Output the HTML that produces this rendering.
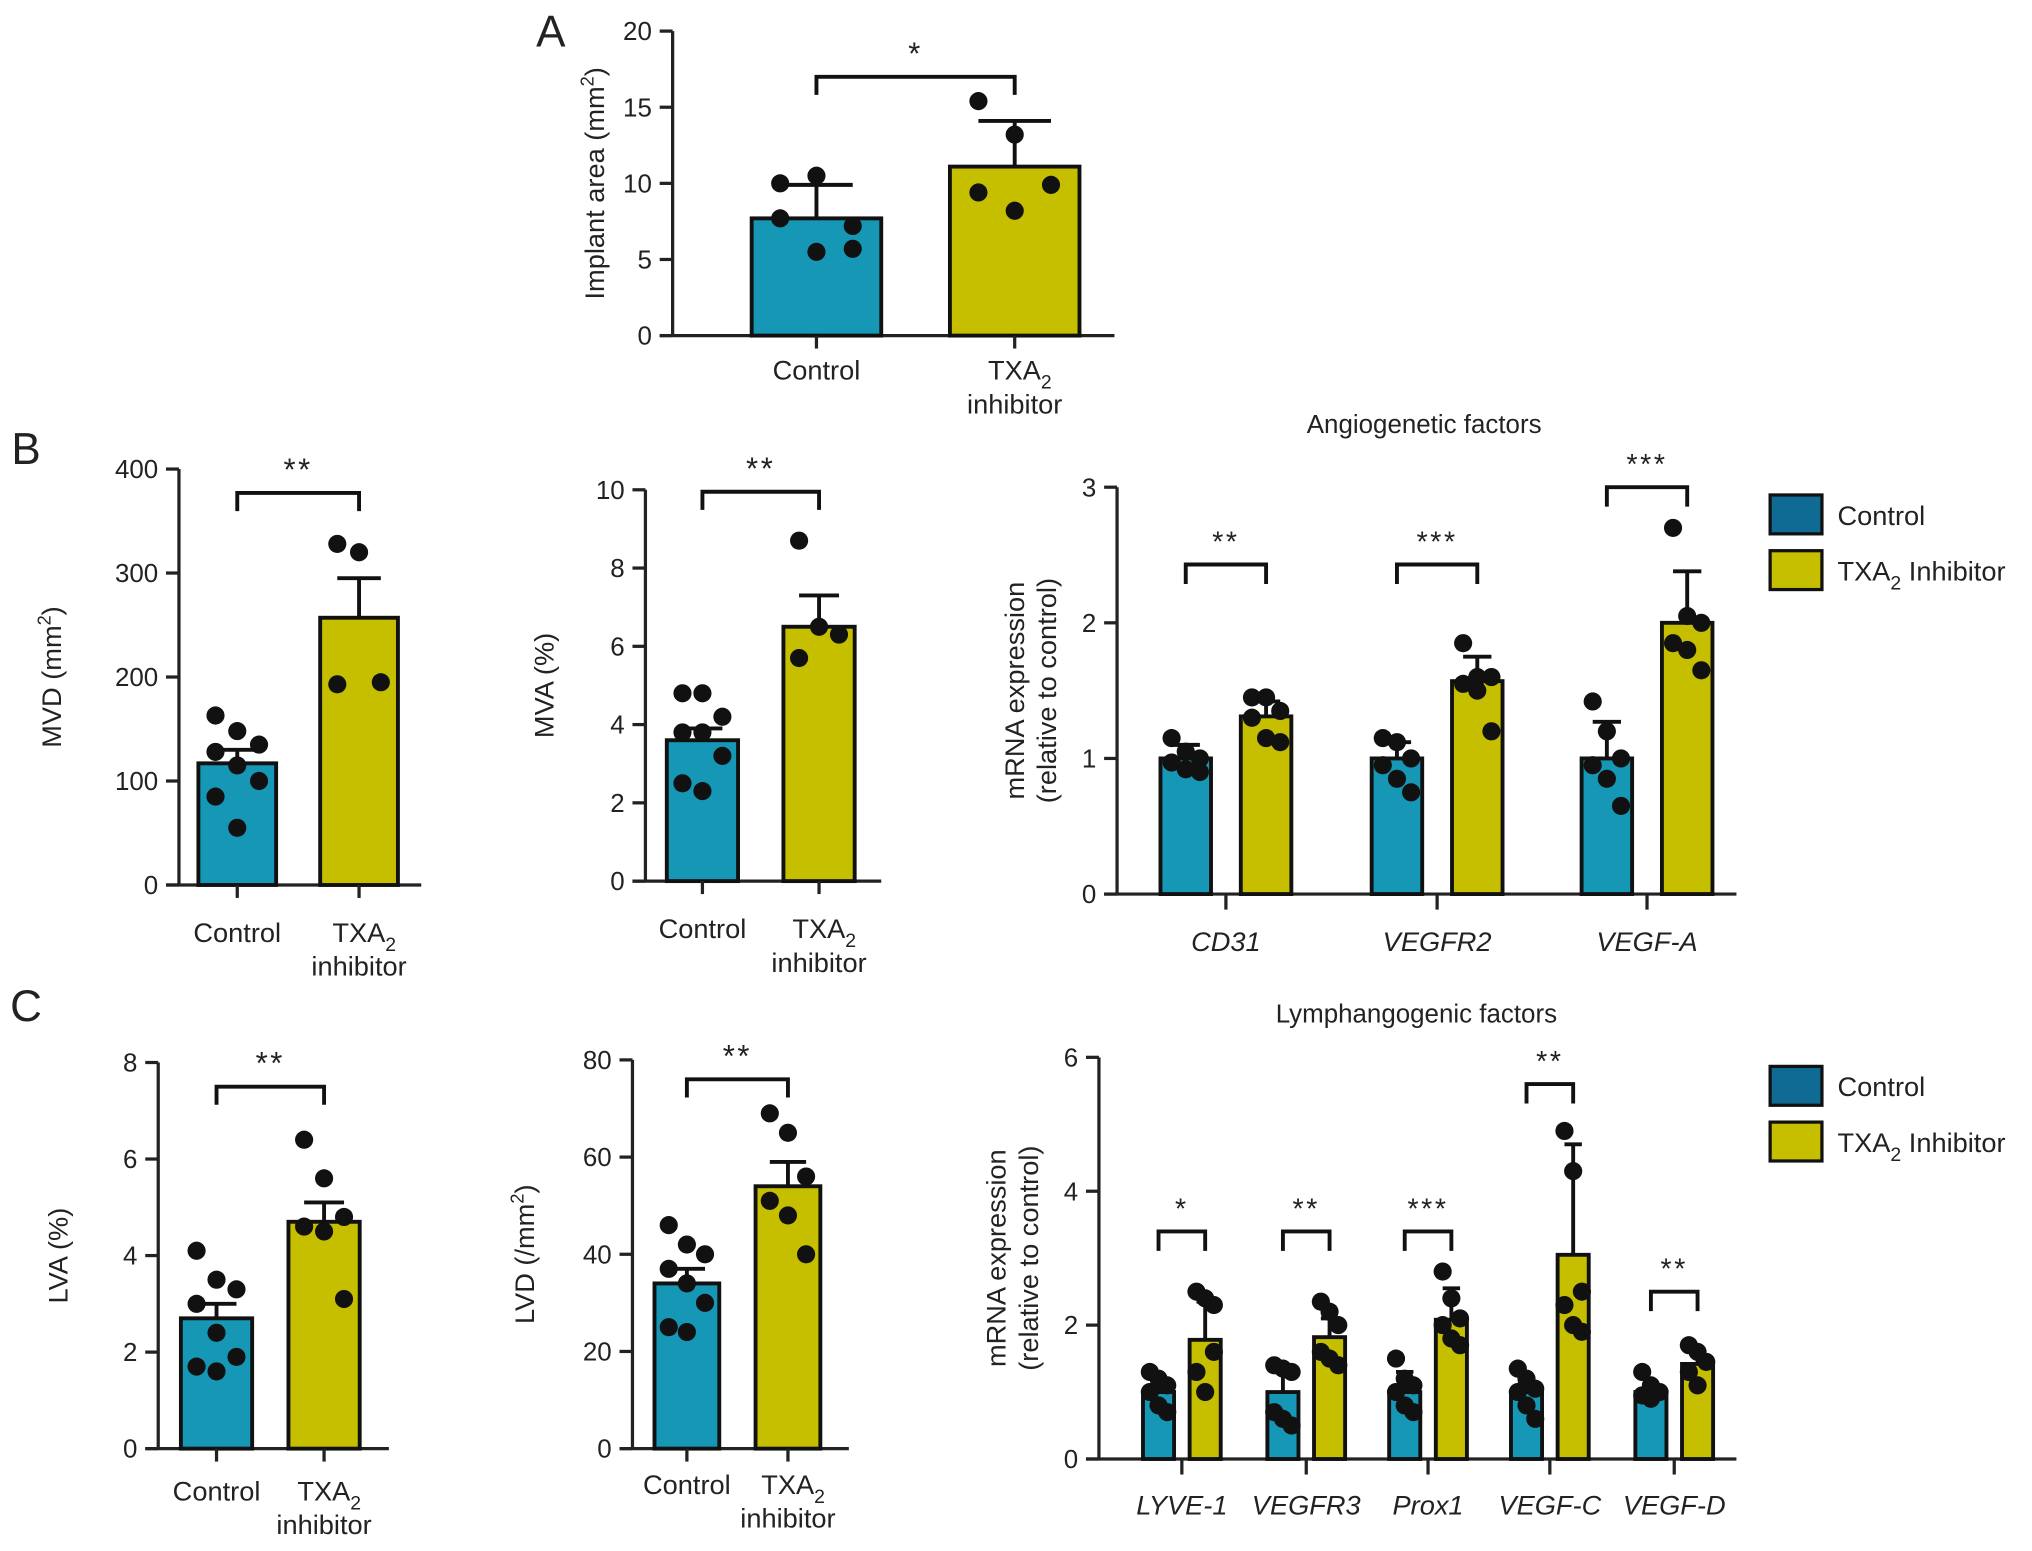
<!DOCTYPE html>
<html><head><meta charset="utf-8"><style>
html,body{margin:0;padding:0;background:#fff}
svg{display:block}
text{font-family:"Liberation Sans",Arial,sans-serif;fill:#222}
</style></head><body>
<svg id="fig" xmlns="http://www.w3.org/2000/svg" width="2032" height="1551" viewBox="0 0 1568 1197"></svg>
<script>
// ---------- data ----------
const twoCats = ['Control','TXA2 inhibitor'];
const aMeans = [7.7, 11.1];
const aErr = [9.9, 14.1];
const aDots = [[10.0,10.5,7.2,7.7,5.5,5.7],[15.4,13.2,9.9,9.4,8.2]];
const aTicks = [0,5,10,15,20];

const mvdMeans = [117, 257];
const mvdErr = [130, 295];
const mvdDots = [[163,148,135,128,115,100,85,55],[328,320,195,193]];
const mvdTicks = [0,100,200,300,400];

const mvaMeans = [3.6, 6.5];
const mvaErr = [3.9, 7.3];
const mvaDots = [[4.8,4.8,4.2,3.8,3.8,3.2,2.5,2.3],[8.7,6.5,6.3,5.7]];
const mvaTicks = [0,2,4,6,8,10];

const lvaMeans = [2.7, 4.7];
const lvaErr = [3.0, 5.1];
const lvaDots = [[4.1,3.5,3.3,3.0,2.4,1.9,1.7,1.6],[6.4,5.6,4.8,4.6,4.5,3.1]];
const lvaTicks = [0,2,4,6,8];

const lvdMeans = [34, 54];
const lvdErr = [37, 59];
const lvdDots = [[46,42,40,37,34,30,25,24],[69,65,56,51,48,40]];
const lvdTicks = [0,20,40,60,80];

const angCats = ['CD31','VEGFR2','VEGF-A'];
const angCtrl = [1.0, 1.0, 1.0];
const angCtrlErr = [1.1, 1.12, 1.27];
const angTxa = [1.31, 1.57, 2.0];
const angTxaErr = [1.42, 1.75, 2.38];
const angCtrlDots = [[1.15,1.05,1.0,0.97,0.92,0.9],[1.15,1.12,1.0,0.95,0.85,0.75],[1.42,1.2,1.0,0.95,0.85,0.65]];
const angTxaDots = [[1.45,1.45,1.35,1.3,1.15,1.12],[1.85,1.6,1.6,1.55,1.5,1.2],[2.7,2.05,2.0,1.85,1.8,1.65]];
const angSig = ['**','***','***'];
const angBracket = [2.43, 2.43, 3.0];
const angTicks = [0,1,2,3];

const lymCats = ['LYVE-1','VEGFR3','Prox1','VEGF-C','VEGF-D'];
const lymCtrl = [1.0,1.0,1.0,1.0,1.0];
const lymCtrlErr = [1.2,1.3,1.3,1.15,1.1];
const lymTxa = [1.78,1.82,2.08,3.05,1.42];
const lymTxaErr = [2.35,2.1,2.55,4.7,1.6];
const lymCtrlDots = [[1.3,1.2,1.1,1.0,0.8,0.7],[1.4,1.35,1.3,0.7,0.6,0.5],[1.5,1.2,1.1,1.0,0.8,0.7],[1.35,1.2,1.05,1.0,0.8,0.6],[1.3,1.1,1.0,0.95,0.9]];
const lymTxaDots = [[2.5,2.4,2.3,1.3,1.0,1.6],[2.35,2.2,2.0,1.6,1.5,1.4],[2.8,2.4,2.1,2.0,1.8,1.7],[4.9,4.3,2.5,2.3,2.0,1.9],[1.7,1.6,1.45,1.3,1.1]];
const lymSig = ['*','**','***','**','**'];
const lymBracket = [3.4,3.4,3.4,5.6,2.5];
const lymTicks = [0,2,4,6];

// ---------- helpers ----------
const NS='http://www.w3.org/2000/svg';
const svg=document.getElementById('fig');
const C_BLUE='#1597b5', C_YEL='#c5bf00', C_LEG='#0f6a94';
function el(tag,attrs,parent){const e=document.createElementNS(NS,tag);for(const k in attrs)e.setAttribute(k,attrs[k]);(parent||svg).appendChild(e);return e;}
function txt(x,y,s,size,anchor,parent,extra){const t=el('text',Object.assign({x:x,y:y,'font-size':size,'text-anchor':anchor||'middle'},extra||{}),parent);t.textContent=s;return t;}
function scale(d0,d1,r0,r1){return v=>r0+(v-d0)*(r1-r0)/(d1-d0);}

function yAxis(g,x,y,ticks,xl,xr){
  const ax=el('line',{x1:x,y1:y(ticks[0]),x2:x,y2:y(ticks[ticks.length-1]),stroke:'#222','stroke-width':2.5},g);
  
  ticks.forEach(t=>{
    const tl=el('line',{x1:x-10,y1:y(t),x2:x,y2:y(t),stroke:'#222','stroke-width':2.5},g);
    
    const lb=txt(x-16,y(t)+7,String(t),20,'end',g);
    
  });
  const xa=el('line',{x1:x-10,y1:y(0),x2:xr,y2:y(0),stroke:'#222','stroke-width':2.5},g);
  
}
function bar(g,cx,w,y,v,err,color,name){
  const r=el('rect',{x:cx-w/2,y:y(v),width:w,height:y(0)-y(v),fill:color,stroke:'#111','stroke-width':3},g);
  
  const e=el('path',{d:`M${cx},${y(v)}V${y(err)}M${cx-w*0.28},${y(err)}H${cx+w*0.28}`,stroke:'#111','stroke-width':3,fill:'none'},g);
  
}
function dots(g,cx,w,y,vals){
  vals.forEach((v,i)=>{
    const off=((i%3)-1)*w*0.28;
    const c=el('circle',{cx:cx+off,cy:y(v),r:7,fill:'#111'},g);
    
  });
}
function bracket(g,x1,x2,yy,stars,leg,size){
  const p=el('path',{d:`M${x1},${yy+leg}V${yy}H${x2}V${yy+leg}`,stroke:'#111','stroke-width':3,fill:'none'},g);
  
  const t=txt((x1+x2)/2,yy-10,stars,size||22,'middle',g,{'letter-spacing':'2'});
  
}
function yLabel(g,x,yc,lines){
  lines.forEach((ln,i)=>{
    const t=el('text',{x:0,y:0,'font-size':21,'text-anchor':'middle',transform:`translate(${x+i*25},${yc}) rotate(-90)`},g);
    t.innerHTML=ln;
    
  });
}
function twoBarPanel(name,ax,y0,yTop,ticks,cx,bw,means,errs,dd,br,xr,ylab,ylx,labY){
  const g=el('g',{});
  const y=scale(ticks[0],ticks[ticks.length-1],y0,yTop);
  yAxis(g,ax,y,ticks,null,xr);
  bar(g,cx[0],bw,y,means[0],errs[0],C_BLUE,'bar-control');
  bar(g,cx[1],bw,y,means[1],errs[1],C_YEL,'bar-txa2-inhibitor');
  dots(g,cx[0],bw,y,dd[0]);dots(g,cx[1],bw,y,dd[1]);
  [0,1].forEach(i=>{const t=el('line',{x1:cx[i],y1:y0,x2:cx[i],y2:y0+10,stroke:'#222','stroke-width':2.5},g);});
  bracket(g,cx[0],cx[1],y(br[0]),br[1],14,24);
  const c1=txt(cx[0],labY,'Control',21,'middle',g);
  const c2=el('text',{x:cx[1]+4,y:labY,'font-size':21,'text-anchor':'middle'},g);
  c2.innerHTML='TXA<tspan font-size="15" dy="7">2</tspan>';
  
  const c3=txt(cx[1],labY+26,'inhibitor',21,'middle',g);
  yLabel(g,ylx,(y0+yTop)/2,[ylab]);
}
function groupPanel(name,ax,y0,yTop,ticks,xr,centers,half,bw,cats,ctrl,ctrlE,txa,txaE,cd,td,sig,brk,title,titleX,titleY,labY,legY){
  const g=el('g',{});
  const y=scale(ticks[0],ticks[ticks.length-1],y0,yTop);
  yAxis(g,ax,y,ticks,null,xr);
  cats.forEach((c,i)=>{
    const cx=centers[i];
    bar(g,cx-half,bw,y,ctrl[i],ctrlE[i],C_BLUE,'bar-control-'+c.toLowerCase());
    bar(g,cx+half,bw,y,txa[i],txaE[i],C_YEL,'bar-txa2-'+c.toLowerCase());
    dots(g,cx-half,bw,y,cd[i]);dots(g,cx+half,bw,y,td[i]);
    const t=el('line',{x1:cx,y1:y0,x2:cx,y2:y0+12,stroke:'#222','stroke-width':2.5},g);
    bracket(g,cx-half,cx+half,y(brk[i]),sig[i],15,22);
    const l=txt(cx,labY,c,21,'middle',g,{'font-style':'italic'});
  });
  const tt=txt(titleX,titleY,title,20,'middle',g);
  yLabel(g,ax-72,(y0+yTop)/2,['mRNA expression','(relative to control)']);
  const lx=1366;
  const r1=el('rect',{x:lx,y:legY,width:40,height:30,fill:C_LEG,stroke:'#111','stroke-width':2.5},g);
  const t1=txt(lx+52,legY+23,'Control',21,'start',g);
  const r2=el('rect',{x:lx,y:legY+43,width:40,height:30,fill:C_YEL,stroke:'#111','stroke-width':2.5},g);
  const t2=el('text',{x:lx+52,y:legY+66,'font-size':21,'text-anchor':'start'},g);
  t2.innerHTML='TXA<tspan font-size="15" dy="7">2</tspan><tspan dy="-7"> Inhibitor</tspan>';
  
}

// panel letters
[['A',425,36],['B',20,358],['C',20,788]].forEach(p=>{const t=txt(p[1],p[2],p[0],34,'middle');});

twoBarPanel('panel-a-implant-area',519,259,24,aTicks,[630,783],100,aMeans,aErr,aDots,[17,'*'],860,'Implant area (mm<tspan font-size="14" dy="-8">2</tspan><tspan dy="8">)</tspan>',466,293);
twoBarPanel('panel-b-mvd',138,683,362,mvdTicks,[183,277],60,mvdMeans,mvdErr,mvdDots,[377,'**'],325,'MVD (mm<tspan font-size="14" dy="-8">2</tspan><tspan dy="8">)</tspan>',47,727);
twoBarPanel('panel-b-mva',498,680,378,mvaTicks,[542,632],55,mvaMeans,mvaErr,mvaDots,[9.95,'**'],680,'MVA (%)',427,724);
twoBarPanel('panel-c-lva',122,1118,820,lvaTicks,[167,250],55,lvaMeans,lvaErr,lvaDots,[7.5,'**'],300,'LVA (%)',52,1158);
twoBarPanel('panel-c-lvd',488,1118,818,lvdTicks,[530,608],50,lvdMeans,lvdErr,lvdDots,[76,'**'],655,'LVD (/mm<tspan font-size="14" dy="-8">2</tspan><tspan dy="8">)</tspan>',412,1153);

groupPanel('panel-b-angiogenetic',862,690,376,angTicks,1340,[946,1109,1271],31,39,angCats,angCtrl,angCtrlErr,angTxa,angTxaErr,angCtrlDots,angTxaDots,angSig,angBracket,'Angiogenetic factors',1099,334,734,382);
groupPanel('panel-c-lymphangogenic',848,1126,816,lymTicks,1340,[912,1008,1102,1196,1292],18,24,lymCats,lymCtrl,lymCtrlErr,lymTxa,lymTxaErr,lymCtrlDots,lymTxaDots,lymSig,lymBracket,'Lymphangogenic factors',1093,789,1169,823);
</script>
</body></html>
